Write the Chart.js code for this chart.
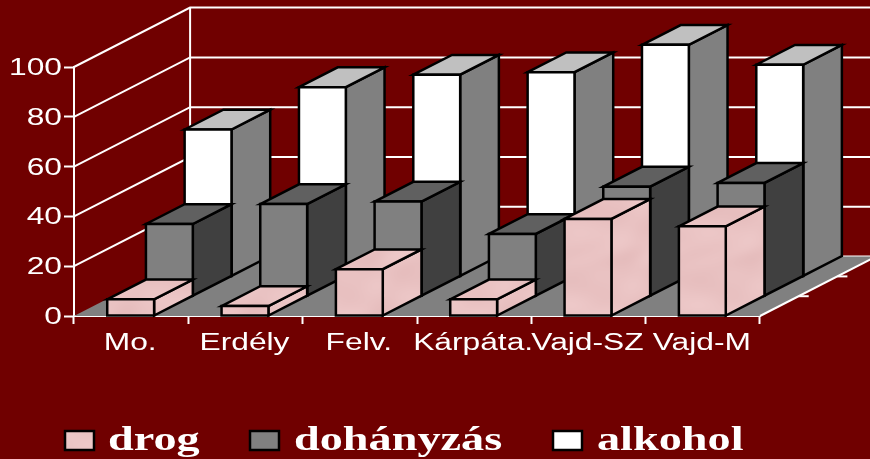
<!DOCTYPE html>
<html>
<head>
<meta charset="utf-8">
<style>
html, body { margin: 0; padding: 0; background: #700000; }
#wrap { width: 870px; height: 459px; }
canvas { display: block; }
</style>
<script src="https://cdn.jsdelivr.net/npm/chart.js@4"></script>
</head>
<body>
<div id="wrap"><canvas id="chart" width="870" height="459"></canvas></div>
<script>
const categories = ['Mo.', 'Erdély', 'Felv.', 'Kárpáta.', 'Vajd-SZ', 'Vajd-M'];
const seriesNames = ['drog', 'dohányzás', 'alkohol'];
const drog = [6.7, 4, 18.8, 6.7, 39, 36];
const dohanyzas = [29, 37, 38, 25, 44, 45.5];
const alkohol = [59, 76, 81, 82, 93, 85];

// the source picture is a wide-stretched 3d chart
const AXIS_STRETCH = 1.38;
const LEGEND_STRETCH = 1.36;
const DEPTH_X = 38.7;
const DEPTH_Y = 19.8;
const WHITE = '#ffffff';

const makeMarble = () => {
    const c = document.createElement('canvas');
    c.width = 128;
    c.height = 128;
    const g = c.getContext('2d');
    const img = g.createImageData(128, 128);
    for (let y = 0; y < 128; y++) {
        for (let x = 0; x < 128; x++) {
            const a = 2 * Math.PI * x / 128;
            const b = 2 * Math.PI * y / 128;
            const n = Math.sin(a + 2 * b + 2 * Math.sin(a)) + Math.sin(a - 3 * b) * 0.7
                + Math.sin(2 * a + 4 * b + Math.sin(2 * b)) * 0.4;
            const i = (y * 128 + x) * 4;
            img.data[i] = 233 + n * 2;
            img.data[i + 1] = 194 + n * 3;
            img.data[i + 2] = 194 + n * 3;
            img.data[i + 3] = 255;
        }
    }
    g.putImageData(img, 0, 0);
    return c;
};

const wideText = (ctx, text, x, y, align, stretch) => {
    ctx.save();
    ctx.translate(x, y);
    ctx.scale(stretch, 1);
    ctx.textAlign = align;
    ctx.fillText(text, 0, 0);
    ctx.restore();
};

const face = (ctx, pts, fill) => {
    ctx.beginPath();
    pts.forEach((p, i) => i ? ctx.lineTo(p[0], p[1]) : ctx.moveTo(p[0], p[1]));
    ctx.closePath();
    ctx.fillStyle = fill;
    ctx.fill();
    ctx.stroke();
};

const drawWalls = (chart) => {
    const { ctx, chartArea, scales } = chart;
    const y0 = scales.y.getPixelForValue(0);
    const backX = chartArea.left + 3 * DEPTH_X;
    const backRight = chartArea.right + 3 * DEPTH_X;
    const lift = 3 * DEPTH_Y;

    ctx.strokeStyle = WHITE;
    ctx.lineWidth = 2;
    scales.y.ticks.forEach(t => {
        const py = scales.y.getPixelForValue(t.value);
        ctx.beginPath();
        if (t.value > 0) ctx.moveTo(chartArea.left, py);
        else ctx.moveTo(backX, py - lift);
        ctx.lineTo(backX, py - lift);
        ctx.lineTo(backRight, py - lift);
        ctx.stroke();
    });
    ctx.beginPath();
    ctx.moveTo(backX, scales.y.getPixelForValue(100) - lift);
    ctx.lineTo(backX, y0 - lift);
    ctx.stroke();

    // floor
    ctx.beginPath();
    ctx.moveTo(chartArea.left, y0);
    ctx.lineTo(backX, y0 - lift);
    ctx.lineTo(backRight, y0 - lift);
    ctx.lineTo(chartArea.right, y0);
    ctx.closePath();
    ctx.fillStyle = '#808080';
    ctx.fill();

    ctx.beginPath();
    ctx.moveTo(chartArea.right, y0);
    ctx.lineTo(backRight, y0 - lift);
    ctx.stroke();
    [1, 2].forEach(d => {
        ctx.beginPath();
        ctx.moveTo(chartArea.right + d * DEPTH_X, y0 - d * DEPTH_Y);
        ctx.lineTo(chartArea.right + d * DEPTH_X + 10, y0 - d * DEPTH_Y);
        ctx.stroke();
    });
};

const bar3d = {
    id: 'bar3d',
    beforeDatasetsDraw(chart) {
        const ctx = chart.ctx;
        ctx.save();
        drawWalls(chart);
        ctx.strokeStyle = '#000000';
        ctx.lineWidth = 2.5;
        ctx.lineJoin = 'miter';
        // back row first so the front rows cover it
        for (let s = chart.data.datasets.length - 1; s >= 0; s--) {
            const ds = chart.data.datasets[s];
            const dx = s * DEPTH_X;
            const dy = s * DEPTH_Y;
            chart.getDatasetMeta(s).data.forEach(el => {
                const { x, y, base, width } = el.getProps(['x', 'y', 'base', 'width'], true);
                const l = x - width / 2 + dx - 0.5;
                const r = x + width / 2 + dx - 0.5;
                const t = y - dy;
                const b = base - dy;
                face(ctx, [[r, t], [r + DEPTH_X, t - DEPTH_Y], [r + DEPTH_X, b - DEPTH_Y], [r, b]], ds.sideColor);
                face(ctx, [[l, t], [l + DEPTH_X, t - DEPTH_Y], [r + DEPTH_X, t - DEPTH_Y], [r, t]], ds.topColor);
                face(ctx, [[l, t], [r, t], [r, b], [l, b]], ds.backgroundColor);
            });
        }
        ctx.restore();
        return false;
    },
    afterDraw(chart) {
        const { ctx, scales, chartArea } = chart;
        ctx.save();
        ctx.fillStyle = WHITE;
        ctx.textBaseline = 'alphabetic';
        ctx.font = '23px "Liberation Sans"';
        scales.y.ticks.forEach(t => {
            wideText(ctx, String(t.value), 62, scales.y.getPixelForValue(t.value) + 8, 'right', AXIS_STRETCH);
        });
        categories.forEach((c, i) => {
            wideText(ctx, c, scales.x.getPixelForValue(i) - 1, chartArea.bottom + 34, 'center', AXIS_STRETCH);
        });

        // legend
        const swatchX = [65, 250, 553];
        const textX = [108, 294, 597];
        ctx.font = 'bold 34px "Liberation Serif"';
        chart.data.datasets.forEach((ds, i) => {
            ctx.fillStyle = ds.backgroundColor;
            ctx.strokeStyle = '#000000';
            ctx.lineWidth = 2.5;
            ctx.fillRect(swatchX[i], 431, 29, 19);
            ctx.strokeRect(swatchX[i], 431, 29, 19);
            ctx.fillStyle = WHITE;
            wideText(ctx, ds.label, textX[i], 450, 'left', LEGEND_STRETCH);
        });
        ctx.restore();
    }
};

const ctx = document.getElementById('chart').getContext('2d');
const marble = ctx.createPattern(makeMarble(), 'repeat');

new Chart(ctx, {
    type: 'bar',
    plugins: [bar3d],
    data: {
        labels: categories,
        datasets: [
            { label: seriesNames[0], data: drog, backgroundColor: marble, topColor: marble, sideColor: marble },
            { label: seriesNames[1], data: dohanyzas, backgroundColor: '#808080', topColor: '#606060', sideColor: '#404040' },
            { label: seriesNames[2], data: alkohol, backgroundColor: '#ffffff', topColor: '#c0c0c0', sideColor: '#808080' }
        ]
    },
    options: {
        responsive: false,
        animation: false,
        layout: { padding: { top: 67, right: 110, left: 0, bottom: 0 } },
        plugins: { legend: { display: false }, tooltip: { enabled: false } },
        datasets: { bar: { grouped: false, barPercentage: 0.41, categoryPercentage: 1 } },
        scales: {
            x: {
                z: 1,
                afterFit(scale) { scale.height = 143; },
                border: { color: WHITE, width: 2 },
                grid: { drawOnChartArea: false, color: WHITE, tickColor: WHITE, tickLength: 8, tickWidth: 2, offset: true },
                ticks: { display: false }
            },
            y: {
                z: 1,
                min: 0,
                max: 100,
                afterFit(scale) { scale.width = 74; },
                border: { color: WHITE, width: 2 },
                grid: { drawOnChartArea: false, color: WHITE, tickColor: WHITE, tickLength: 10, tickWidth: 2 },
                ticks: { display: false, stepSize: 20 }
            }
        }
    }
});
</script>
</body>
</html>
